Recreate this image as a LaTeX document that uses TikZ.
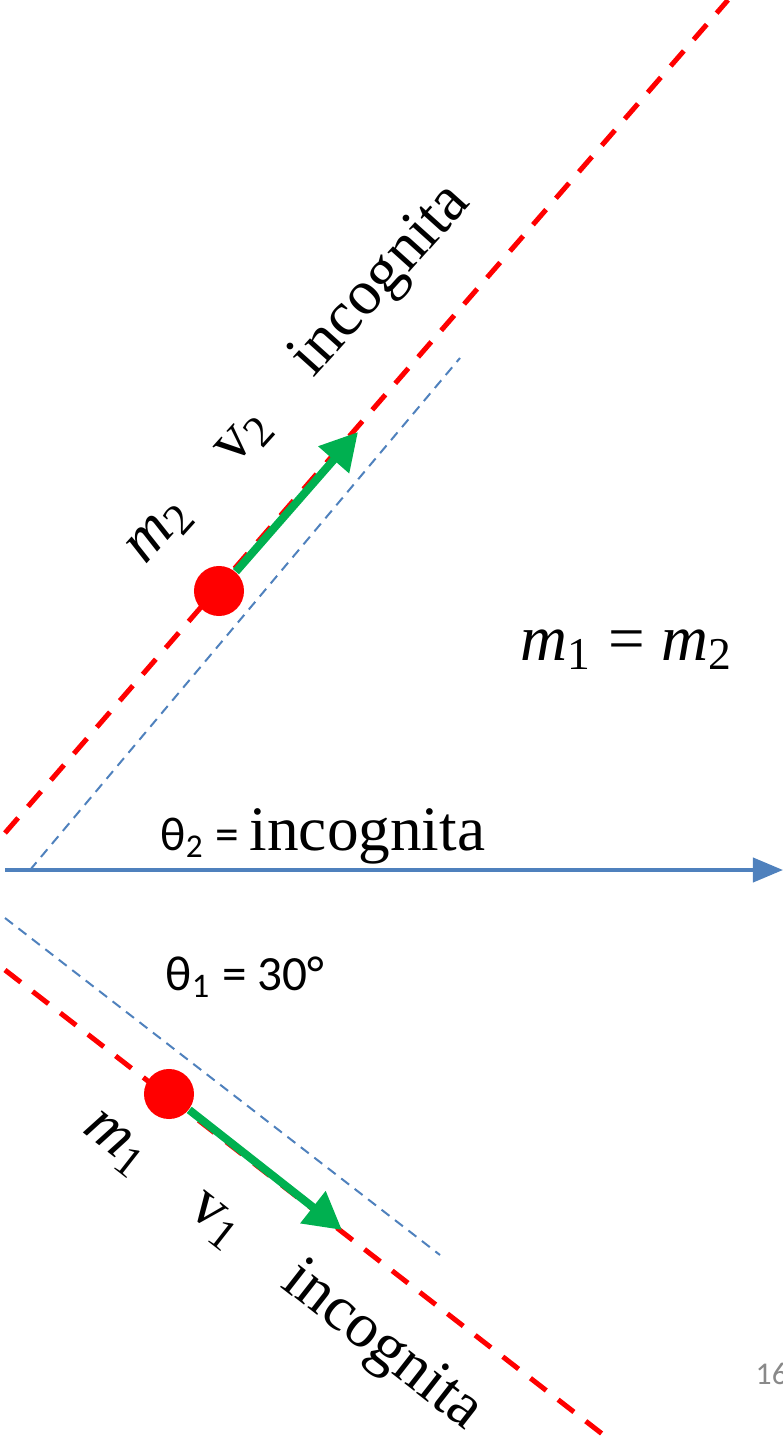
\documentclass[tikz,border=0pt]{standalone}
\usepackage{fontspec}
\setmainfont{Liberation Serif}
\newfontfamily\calfont{Carlito}
\usetikzlibrary{arrows.meta}
\definecolor{axisblue}{HTML}{4F81BD}
\definecolor{velgreen}{HTML}{00B050}
\definecolor{pagegray}{HTML}{898989}
\tikzstyle{track}=[red, line width=0.05cm, dash pattern=on 0.2cm off 0.15cm]
\tikzstyle{guide}=[axisblue, line width=0.02cm, dash pattern=on 0.1cm off 0.07cm]
\tikzstyle{ball}=[circle, fill=red, minimum size=0.5cm, inner sep=0pt]
\tikzstyle{vel}=[velgreen, line width=0.08cm, -{Triangle[length=0.37cm,width=0.39cm]}]
\tikzstyle{big}=[font=\fontsize{18}{21}\selectfont, inner sep=0pt]
\tikzstyle{calib}=[font=\calfont\fontsize{14}{16}\selectfont, inner sep=0pt]
\newcommand{\low}[1]{\textsubscript{#1}}

\begin{document}
\begin{tikzpicture}[x=0.01cm, y=-0.01cm]
    \useasboundingbox (0,0) rectangle (783,1440);
    \coordinate (o) at (5,870);
    \coordinate (e) at (783,870);
    \coordinate (g2a) at (30,870);
    \coordinate (g2b) at (460,358);
    \coordinate (g1a) at (5,918);
    \coordinate (g1b) at (440,1255);
    \coordinate (r2a) at (5,833);
    \coordinate (r2b) at (728,0);
    \coordinate (r1a) at (5,970);
    \coordinate (r1b) at (610,1440);
    \coordinate (t2) at (358,432);
    \coordinate (t1) at (342,1230);
    \draw[axisblue, line width=0.04cm, -{Triangle[length=0.3cm,width=0.24cm]}] (o) -- (e);
    \draw[guide] (g2a) -- (g2b);
    \draw[guide] (g1a) -- (g1b);
    \draw[track] (r2a) -- (r2b);
    \draw[track] (r1a) -- (r1b);
    \node[ball] (b2) at (219,591) {};
    \node[ball] (b1) at (169,1094) {};
    \draw[vel] (b2) -- (t2);
    \draw[vel] (b1) -- (t1);
    \node[big, rotate=48] (lab2) at (298,375) {\textit{m}\low{2}\quad v\low{2}\quad incognita};
    \node[big, rotate=-38] (lab1) at (282,1270) {\textit{m}\low{1}\quad v\low{1}\quad incognita};
    \node[big, font=\fontsize{18.5}{21}\selectfont, anchor=base west] (eq) at (520,660) {\textit{m}\low{1} = \textit{m}\low{2}};
    \node[inner sep=0pt, anchor=base west] (th2) at (160,850) {{\calfont\fontsize{13.5}{15}\selectfont θ\low{2} = }{\fontsize{18}{21}\selectfont incognita}};
    \node[calib, anchor=base west] (th1) at (165,990) {θ\low{1} = 30°};
    \node[inner sep=0pt, anchor=base west, text=pagegray, font=\calfont\fontsize{9}{11}\selectfont] (pg) at (755,1384) {16};
\end{tikzpicture}
\end{document}
